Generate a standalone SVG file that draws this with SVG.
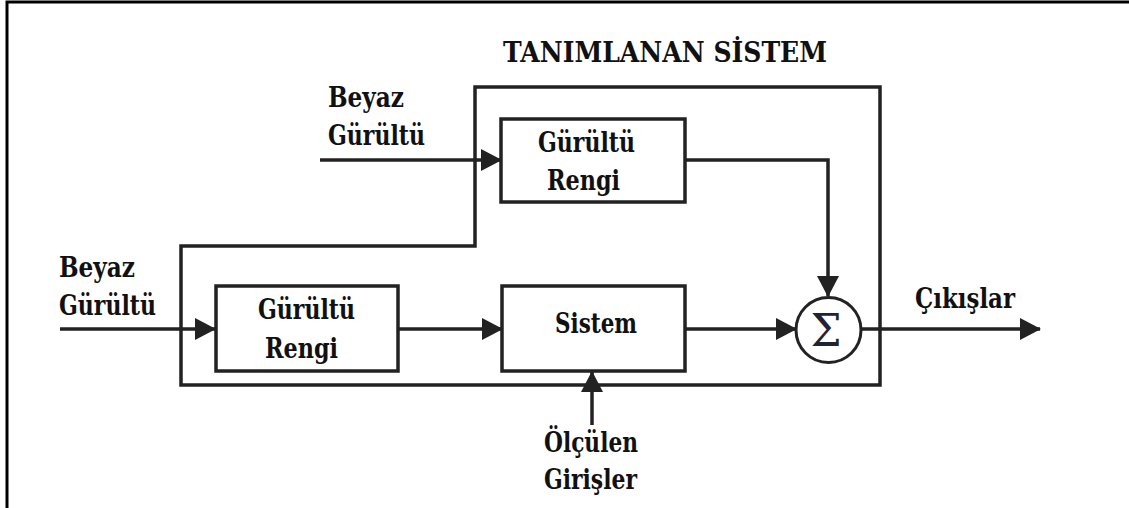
<svg xmlns="http://www.w3.org/2000/svg" width="1129" height="508" viewBox="0 0 1129 508">
<style>
.ln{fill:none;stroke:#222;stroke-width:3.5}
.bx{fill:#fff;stroke:#222;stroke-width:3.5}
.t{font-family:"DejaVu Serif","Liberation Serif",serif;font-weight:bold;font-size:27px;fill:#111}
.c{text-anchor:middle}
</style>
<defs>
<marker id="ah" markerUnits="userSpaceOnUse" markerWidth="22" markerHeight="24" refX="20" refY="11" orient="auto">
<path d="M0,0 L21,11 L0,22 z" fill="#222"/>
</marker>
</defs>
<rect width="1129" height="508" fill="#fff"/>
<g id="frame">
<path d="M7,508 V2 H1129" fill="none" stroke="#000" stroke-width="3"/>
</g>
<g id="boundary">
<path class="ln" d="M475,87 H880 V385 H181 V246 H475 Z"/>
<text class="t" x="503" y="62" font-size="30" textLength="324" lengthAdjust="spacingAndGlyphs">TANIMLANAN SİSTEM</text>
</g>
<g id="connectors">
<line class="ln" x1="320" y1="160" x2="501" y2="160" marker-end="url(#ah)"/>
<path class="ln" d="M685,160 H828 V296" marker-end="url(#ah)"/>
<line class="ln" x1="60" y1="329" x2="215" y2="329" marker-end="url(#ah)"/>
<line class="ln" x1="398" y1="329" x2="502" y2="329" marker-end="url(#ah)"/>
<line class="ln" x1="685" y1="329" x2="796" y2="329" marker-end="url(#ah)"/>
<line class="ln" x1="861" y1="329" x2="1040" y2="329" marker-end="url(#ah)"/>
<line class="ln" x1="592" y1="425" x2="592" y2="372" marker-end="url(#ah)"/>
</g>
<g id="noise-top">
<rect class="bx" x="501" y="119" width="184" height="83"/>
<text class="t" x="538" y="152" textLength="97" lengthAdjust="spacingAndGlyphs">Gürültü</text>
<text class="t" x="547" y="190" textLength="73" lengthAdjust="spacingAndGlyphs">Rengi</text>
</g>
<g id="noise-bottom">
<rect class="bx" x="216" y="286" width="182" height="85"/>
<text class="t" x="258" y="319" textLength="97" lengthAdjust="spacingAndGlyphs">Gürültü</text>
<text class="t" x="265" y="358" textLength="73" lengthAdjust="spacingAndGlyphs">Rengi</text>
</g>
<g id="sistem">
<rect class="bx" x="502" y="286" width="183" height="85"/>
<text class="t" x="555" y="333" textLength="82" lengthAdjust="spacingAndGlyphs">Sistem</text>
</g>
<g id="sum">
<circle cx="828.5" cy="330" r="32.5" fill="#fff" stroke="#222" stroke-width="3"/>
<text x="826" y="346" text-anchor="middle" font-family="DejaVu Serif, Liberation Serif, serif" font-size="44" fill="#223">Σ</text>
</g>
<g id="labels">
<text class="t" x="328" y="107" textLength="76" lengthAdjust="spacingAndGlyphs">Beyaz</text>
<text class="t" x="328" y="145" textLength="97" lengthAdjust="spacingAndGlyphs">Gürültü</text>
<text class="t" x="59" y="277" textLength="76" lengthAdjust="spacingAndGlyphs">Beyaz</text>
<text class="t" x="59" y="315" textLength="97" lengthAdjust="spacingAndGlyphs">Gürültü</text>
<text class="t" x="915" y="308" textLength="100" lengthAdjust="spacingAndGlyphs">Çıkışlar</text>
<text class="t" x="544" y="452" textLength="94" lengthAdjust="spacingAndGlyphs">Ölçülen</text>
<text class="t" x="544" y="489" textLength="93" lengthAdjust="spacingAndGlyphs">Girişler</text>
</g>
</svg>
